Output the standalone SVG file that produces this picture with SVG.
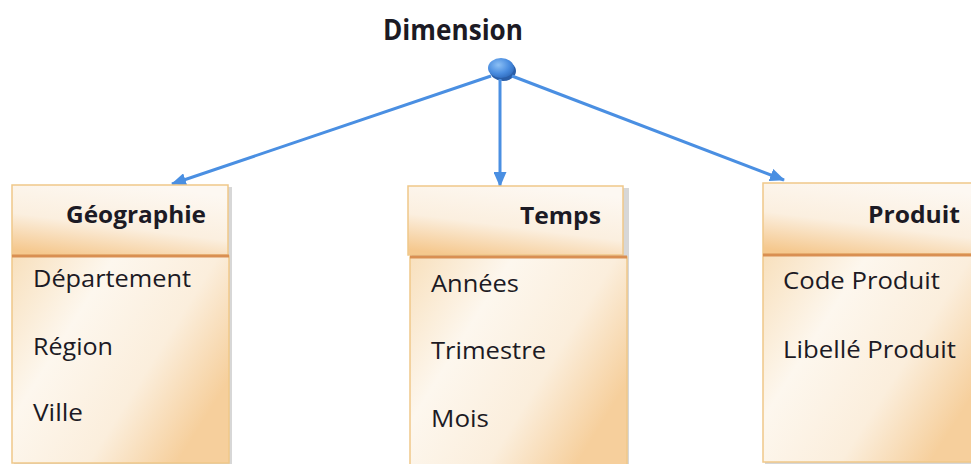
<svg xmlns="http://www.w3.org/2000/svg" width="971" height="464" viewBox="0 0 971 464">
<defs>
<linearGradient id="hdr" x1="0.2" y1="1" x2="0.6" y2="0">
<stop offset="0" stop-color="#f5c88e"/>
<stop offset="0.45" stop-color="#fbefdf"/>
<stop offset="1" stop-color="#fdf8f2"/>
</linearGradient>
<linearGradient id="body" x1="0" y1="0" x2="1" y2="0.6">
<stop offset="0" stop-color="#f8e0bd"/>
<stop offset="0.35" stop-color="#fdf7ee"/>
<stop offset="0.7" stop-color="#fbeedc"/>
<stop offset="1" stop-color="#f6cf9c"/>
</linearGradient>
<radialGradient id="ball" cx="0.4" cy="0.35" r="0.7">
<stop offset="0" stop-color="#8cc0f5"/>
<stop offset="0.6" stop-color="#4a8de0"/>
<stop offset="1" stop-color="#2f6bbd"/>
</radialGradient>
<marker id="ah" viewBox="0 0 15 13" refX="14" refY="6.5" markerWidth="15" markerHeight="13" markerUnits="userSpaceOnUse" orient="auto">
<path d="M0,0 L15,6.5 L0,13 Z" fill="#4a8fe2"/>
</marker>
</defs>
<style>
.shadow{fill:#9a9a9a;opacity:0.4}
.hdr{fill:url(#hdr);stroke:#f0c889;stroke-width:1.5}
.body{fill:url(#body);stroke:#f0c889;stroke-width:1.5}
.div{stroke:#d98f52;stroke-width:3}
.t{font-family:"Open Sans","Lato",sans-serif;fill:#1c1a24}
.h{font-size:24px;font-weight:bold}
.a{font-size:24px}
.conn{stroke:#4a8fe2;stroke-width:3;fill:none;marker-end:url(#ah)}
</style>

<g id="dimension">
<text class="t" x="383" y="40" font-size="28" font-weight="bold" textLength="140" lengthAdjust="spacingAndGlyphs">Dimension</text>
<ellipse cx="503" cy="71" rx="13" ry="10" fill="#2a5ea8"/>
<ellipse cx="501" cy="68" rx="13" ry="10" fill="url(#ball)"/>
</g>

<g id="connectors">
<line class="conn" x1="491" y1="76" x2="172" y2="184"/>
<line class="conn" x1="500" y1="79" x2="500" y2="186"/>
<line class="conn" x1="512" y1="76" x2="784" y2="180"/>
</g>

<g id="geographie">
<rect class="shadow" x="14" y="187" width="218" height="280"/>
<rect class="body" x="12" y="256" width="217" height="207"/>
<rect class="hdr" x="12" y="185" width="216" height="70"/>
<line class="div" x1="12" y1="256" x2="229" y2="256"/>
<text class="t h" x="66" y="223" textLength="140" lengthAdjust="spacingAndGlyphs">Géographie</text>
<text class="t a" x="33" y="287" textLength="158" lengthAdjust="spacingAndGlyphs">Département</text>
<text class="t a" x="33" y="355" textLength="80" lengthAdjust="spacingAndGlyphs">Région</text>
<text class="t a" x="33" y="421" textLength="50" lengthAdjust="spacingAndGlyphs">Ville</text>
</g>

<g id="temps">
<rect class="shadow" x="412" y="188" width="217" height="280"/>
<rect class="body" x="410" y="257" width="217" height="210"/>
<rect class="hdr" x="408" y="186" width="215" height="69"/>
<line class="div" x1="410" y1="257" x2="627" y2="257"/>
<text class="t h" x="520" y="224" textLength="81" lengthAdjust="spacingAndGlyphs">Temps</text>
<text class="t a" x="431" y="292" textLength="88" lengthAdjust="spacingAndGlyphs">Années</text>
<text class="t a" x="431" y="359" textLength="115" lengthAdjust="spacingAndGlyphs">Trimestre</text>
<text class="t a" x="431" y="427" textLength="58" lengthAdjust="spacingAndGlyphs">Mois</text>
</g>

<g id="produit">
<rect class="shadow" x="765" y="185" width="220" height="280"/>
<rect class="body" x="763" y="255" width="220" height="207"/>
<rect class="hdr" x="763" y="183" width="220" height="71"/>
<line class="div" x1="763" y1="255" x2="983" y2="255"/>
<text class="t h" x="868" y="223" textLength="92" lengthAdjust="spacingAndGlyphs">Produit</text>
<text class="t a" x="783" y="289" textLength="157" lengthAdjust="spacingAndGlyphs">Code Produit</text>
<text class="t a" x="783" y="358" textLength="173" lengthAdjust="spacingAndGlyphs">Libellé Produit</text>
</g>
</svg>
